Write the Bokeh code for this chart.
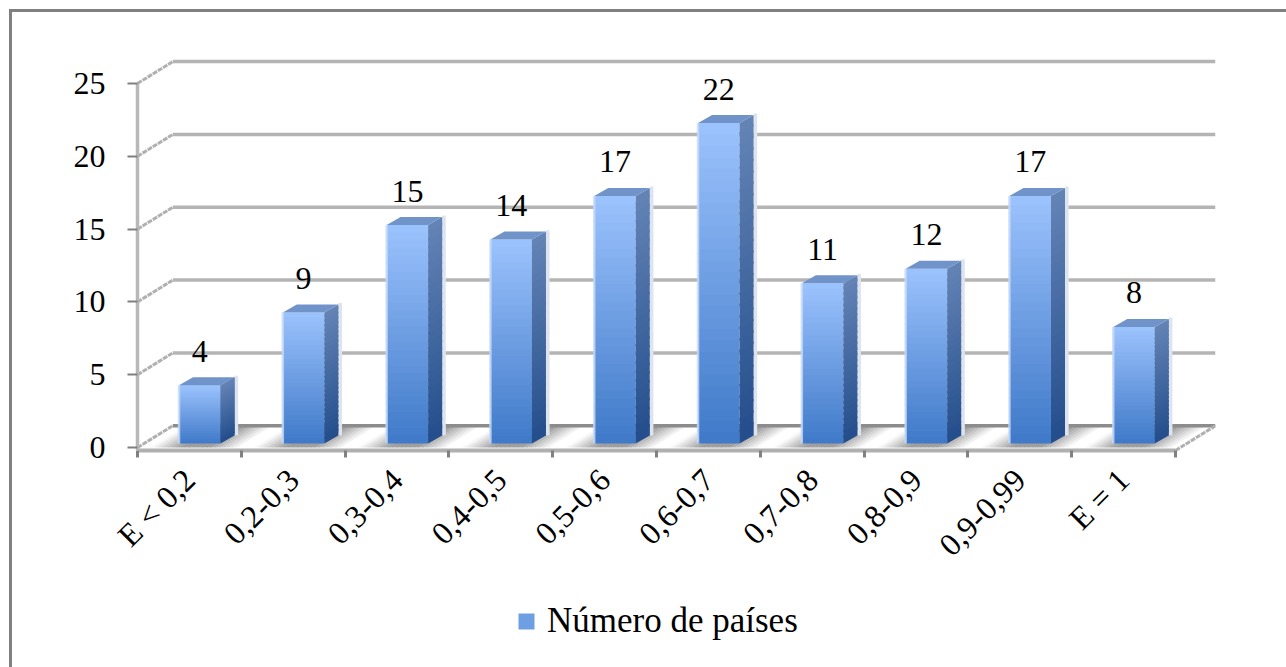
from bokeh.plotting import figure
from bokeh.models import (Range1d, LinearAxis, FixedTicker, Legend, LegendItem,
                          ColumnDataSource)
from bokeh.core.properties import value as fixed
from bokeh.embed import file_html
from bokeh.resources import INLINE
import math

categories = ["E < 0,2", "0,2-0,3", "0,3-0,4", "0,4-0,5", "0,5-0,6",
              "0,6-0,7", "0,7-0,8", "0,8-0,9", "0,9-0,99", "E = 1"]
paises = [4, 9, 15, 14, 17, 22, 11, 12, 17, 8]
y_ticks = [0, 5, 10, 15, 20, 25]
series_name = "Número de países"

FONT = "Liberation Serif"
# 3D projection, in axis units
BACK_X, BACK_Y = 0.34, 1.5
BAR_DX, BAR_DY = 0.135, 0.55
BAR_W, BAR_SHIFT, BAR_BASE = 0.40, 0.10, 0.28
STRIPS = 28
OVER = 0.16
AXIS_Y = -0.2


def mix(a, b, t):
    ca = [int(a[i:i + 2], 16) for i in (1, 3, 5)]
    cb = [int(b[i:i + 2], 16) for i in (1, 3, 5)]
    return "#%02x%02x%02x" % tuple(round(x + (y - x) * t) for x, y in zip(ca, cb))


p = figure(width=1274, height=655, output_backend="svg", toolbar_location=None,
           x_range=Range1d(-1.2042, 10.385), y_range=Range1d(-15.10, 27.95),
           min_border_left=0, min_border_right=71, min_border_top=28, min_border_bottom=0,
           frame_width=1203, frame_height=627, outline_line_color=None,
           x_axis_type=None, y_axis_type=None, background_fill_color="white",
           margin=(9, 0, 0, 9))
p.styles = {"border-left": "3px solid #808080", "border-top": "3px solid #808080"}
p.grid.visible = False

# floor shading
fx, fy, fc = [], [], []
for i in range(len(categories)):
    for k in range(24):
        u0, u1 = i + k / 24, i + (k + 1) / 24
        d = abs((u0 + u1) / 2 - i - 0.55) * 2
        t = min(1.0, max(0.0, (1 - d) * 1.7 - 0.25))
        fx.append([u0, u1 + 0.004, u1 + 0.004 + BACK_X, u0 + BACK_X])
        fy.append([0, 0, BACK_Y, BACK_Y])
        fc.append(mix("#ffffff", "#9c9c9c", t))
p.patches(fx, fy, fill_color=fc, line_color=None)

# back wall gridlines and their diagonals
for v in y_ticks:
    col = "#8c8c8c" if v == 0 else "#b4b4b4"
    p.line([BACK_X, 10.385], [v + BACK_Y, v + BACK_Y], line_color=col, line_width=3.5)
    p.line([0, BACK_X], [v, v + BACK_Y], line_color="#b0b0b0", line_width=3, line_dash="5 1")
p.line([10, 10.385], [AXIS_Y, BACK_Y], line_color="#b0b0b0", line_width=3, line_dash="5 1")

# bars
sx, sy, sc = [], [], []
cx, cy = [], []
gx, gy = [], []
hl, hr, hb, ht = [], [], [], []
ql, qr, qb, qt, qc = [], [], [], [], []
for i, v in enumerate(paises):
    left = i + 0.5 + BAR_SHIFT - BAR_W / 2
    right = left + BAR_W
    top = v + BAR_BASE
    gx.append([right + BAR_DX, right + BAR_DX + 0.035, right + BAR_DX + 0.035, right + BAR_DX])
    gy.append([BAR_BASE + BAR_DY, BAR_BASE + BAR_DY, top + BAR_DY + 0.1, top + BAR_DY + 0.1])
    for k in range(STRIPS):
        f0, f1 = k / STRIPS, (k + 1) / STRIPS
        y0, y1 = BAR_BASE + v * f0, min(top, BAR_BASE + v * f1 + OVER)
        ql.append(left); qr.append(right); qb.append(y0); qt.append(y1)
        qc.append(mix("#3f79c8", "#9cc3fd", (f0 + f1) / 2))
        sx.append([right, right + BAR_DX, right + BAR_DX, right])
        sy.append([y0, y0 + BAR_DY, y1 + BAR_DY, y1])
        sc.append(mix("#234d8b", "#6484b6", (f0 + f1) / 2))
    cx.append([left, left + BAR_DX, right + BAR_DX, right])
    cy.append([top, top + BAR_DY, top + BAR_DY, top])
    hl.append(left - 0.012); hr.append(left + 0.012); hb.append(BAR_BASE); ht.append(top)

p.patches(gx, gy, fill_color="#dde4f0", line_color=None)
fronts = p.quad(left=ql, right=qr, bottom=qb, top=qt, fill_color=qc, line_color=None)
p.patches(sx, sy, fill_color=sc, line_color=None)
p.patches(cx, cy, fill_color="#7093c9", line_color=None)
p.quad(left=hl, right=hr, bottom=hb, top=ht, fill_color="#c6daf9", fill_alpha=0.8, line_color=None)

# data labels
src = ColumnDataSource(dict(x=[i + 0.5 + BAR_SHIFT for i in range(len(paises))],
                            y=[v + BAR_BASE for v in paises],
                            t=[str(v) for v in paises]))
p.text("x", "y", "t", source=src, text_font=fixed(FONT), text_font_size="32px",
       text_color="black", text_align="center", text_baseline="middle", y_offset=-34)

# axes
yaxis = LinearAxis(ticker=FixedTicker(ticks=y_ticks), bounds=(AXIS_Y, 25), fixed_location=0)
yaxis.axis_line_color = "#b8b8b8"
yaxis.axis_line_width = 3.5
yaxis.major_tick_line_color = "#808080"
yaxis.major_tick_line_width = 2
yaxis.major_tick_in = 0
yaxis.major_tick_out = 10
yaxis.minor_tick_line_color = None
yaxis.major_label_standoff = 22
yaxis.major_label_text_font = FONT
yaxis.major_label_text_font_size = "32px"
yaxis.major_label_text_color = "black"
p.add_layout(yaxis, "left")

xticks = list(range(len(categories) + 1))
xaxis = LinearAxis(ticker=FixedTicker(ticks=xticks), bounds=(0, len(categories)),
                   fixed_location=AXIS_Y,
                   major_label_overrides={t: "" for t in xticks})
xaxis.axis_line_color = "#b0b0b0"
xaxis.axis_line_width = 4
xaxis.major_tick_line_color = "#808080"
xaxis.major_tick_line_width = 3
xaxis.major_tick_in = 0
xaxis.major_tick_out = 7
xaxis.minor_tick_line_color = None
xaxis.major_label_standoff = 0
xaxis.major_label_text_font_size = "1px"
p.add_layout(xaxis, "below")

label_ticks = [i + 0.5 for i in range(len(categories))]
laxis = LinearAxis(ticker=FixedTicker(ticks=label_ticks), fixed_location=AXIS_Y,
                   major_label_overrides=dict(zip(label_ticks, categories)))
laxis.axis_line_color = None
laxis.major_tick_line_color = None
laxis.minor_tick_line_color = None
laxis.major_tick_out = 0
laxis.major_tick_in = 0
laxis.major_label_orientation = math.pi / 4
laxis.major_label_standoff = 24
laxis.major_label_text_font = FONT
laxis.major_label_text_font_size = "32px"
laxis.major_label_text_color = "black"
p.add_layout(laxis, "below")

# legend
legend = Legend(items=[LegendItem(label=series_name, renderers=[fronts], index=14)],
                location=(504, 26), orientation="horizontal", margin=0,
                background_fill_alpha=0, border_line_color=None,
                glyph_width=20, glyph_height=20, label_standoff=11,
                label_text_font=FONT, label_text_font_size="35px", label_text_color="black")
p.add_layout(legend)

open("out.html", "w").write(file_html(p, INLINE))
